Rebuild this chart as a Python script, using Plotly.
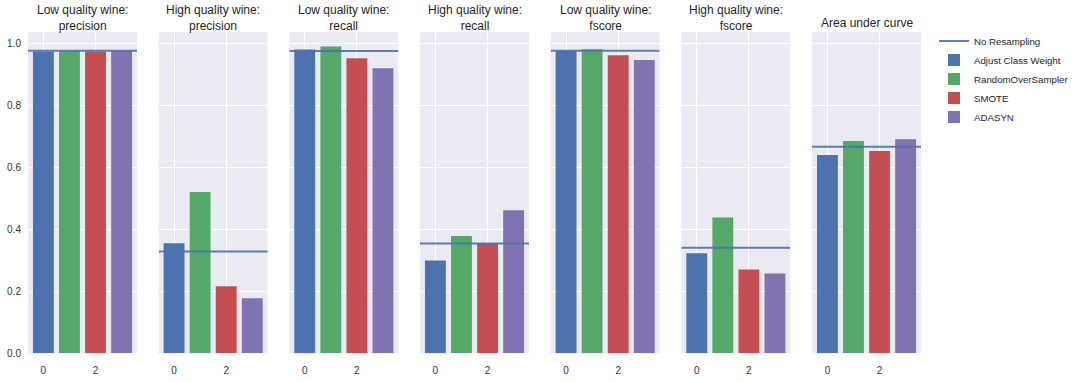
import plotly.graph_objects as go

titles = ["Low quality wine:<br>precision", "High quality wine:<br>precision",
          "Low quality wine:<br>recall", "High quality wine:<br>recall",
          "Low quality wine:<br>fscore", "High quality wine:<br>fscore",
          "Area under curve"]
methods = ["Adjust Class Weight", "RandomOverSampler", "SMOTE", "ADASYN"]
colors = ["#4C72B0", "#55A868", "#C44E52", "#8172B2"]

adjust_class_weight = [0.973, 0.355, 0.979, 0.299, 0.975, 0.323, 0.639]
random_over_sampler = [0.974, 0.520, 0.989, 0.378, 0.980, 0.438, 0.684]
smote = [0.973, 0.216, 0.951, 0.355, 0.961, 0.270, 0.652]
adasyn = [0.974, 0.178, 0.919, 0.461, 0.945, 0.257, 0.690]
no_resampling = [0.975, 0.328, 0.974, 0.354, 0.975, 0.340, 0.666]

series = [adjust_class_weight, random_over_sampler, smote, adasyn]

W, H = 1081, 382
fig = go.Figure()
x_range = [-0.59, 3.59]
y_range = [0, 1.035]
y_dom = [(H - 359) / H, (H - 32.7) / H]

for p in range(7):
    ax = "" if p == 0 else str(p + 1)
    xa, ya = "x" + ax, "y" + ax
    left = 28 + p * 130.67
    dom = [left / W, (left + 109) / W]
    fig.add_trace(go.Scatter(x=x_range, y=[no_resampling[p]] * 2, mode="lines",
                             line=dict(color="#4C72B0", width=2), opacity=0.9,
                             name="No Resampling", legendgroup="nr",
                             showlegend=(p == 0), xaxis=xa, yaxis=ya, hoverinfo="skip"))
    for m in range(4):
        fig.add_trace(go.Bar(x=[m], y=[series[m][p]], width=0.8, marker_color=colors[m],
                             marker_line_width=0, name=methods[m], legendgroup=methods[m],
                             showlegend=(p == 0), xaxis=xa, yaxis=ya))
    fig.layout["xaxis" + ax] = dict(domain=dom, range=x_range, tickvals=[0, 2],
                                    showgrid=True, gridcolor="white", gridwidth=1,
                                    zeroline=False, showline=False, anchor=ya,
                                    ticklabelstandoff=10,
                                    tickfont=dict(size=10, color="#333333"), ticks="")
    fig.layout["yaxis" + ax] = dict(domain=y_dom, range=y_range,
                                    tickvals=[0, 0.2, 0.4, 0.6, 0.8, 1.0],
                                    ticktext=["0.0", "0.2", "0.4", "0.6", "0.8", "1.0"],
                                    showticklabels=(p == 0), showgrid=True,
                                    gridcolor="white", gridwidth=1, zeroline=False,
                                    showline=False, anchor=xa, ticks="",
                                    ticklabelstandoff=6,
                                    tickfont=dict(size=10, color="#333333"))
    yy = 17.8 if "<br>" in titles[p] else 23.3
    fig.add_annotation(text=titles[p], x=(dom[0] + dom[1]) / 2, y=(H - yy) / H,
                       xref="paper", yref="paper", xanchor="center", yanchor="middle",
                       showarrow=False, font=dict(size=12, color="#262626"))

fig.update_layout(
    width=W, height=H, barmode="overlay",
    margin=dict(l=0, r=0, t=0, b=0),
    paper_bgcolor="white", plot_bgcolor="#EAEAF2",
    font=dict(family="Liberation Sans, Arial, sans-serif", color="#262626"),
    legend=dict(x=934 / W, y=(H - 27) / H, xanchor="left", yanchor="top",
                font=dict(size=9.7, color="#262626"), tracegroupgap=0,
                bgcolor="rgba(0,0,0,0)", itemwidth=30),
)

fig.write_html("out.html", config={"displayModeBar": False},
               post_script="document.body.style.margin='0';document.body.style.overflow='hidden';")
